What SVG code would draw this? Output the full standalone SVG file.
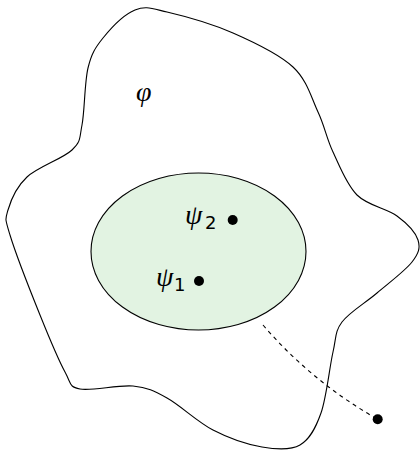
<svg xmlns="http://www.w3.org/2000/svg" width="420" height="451" viewBox="0 0 420 451">
<style>
.ln{fill:none;stroke:#000;stroke-width:1.1}
.dot{fill:#000}
.m{font-family:"Liberation Serif","DejaVu Serif",serif;font-style:italic;font-size:28px;fill:#000}
.s{font-family:"DejaVu Sans","Liberation Sans",sans-serif;font-size:18px;fill:#000}
</style>
<rect width="420" height="451" fill="#fff"/>
<g id="phi">
<path class="ln" d="M8,210 C10.8,200.3 16.3,187 27,177 C37.7,167 62.8,158.7 72,150 C81.2,141.3 79.3,138.7 82,125 C84.7,111.3 84.5,82.5 88,68 C91.5,53.5 95.2,47.7 103,38 C110.8,28.3 124.3,14.3 135,10 C145.7,5.7 150.7,8.2 167,12 C183.3,15.8 212,23.8 233,33 C254,42.2 278.8,53.8 293,67 C307.2,80.2 311.3,97.8 318,112 C324.7,126.2 326.5,138.2 333,152 C339.5,165.8 346.3,184.3 357,195 C367.7,205.7 386.8,208.5 397,216 C407.2,223.5 415.5,232.3 418,240 C420.5,247.7 418.8,253.2 412,262 C405.2,270.8 388.7,283 377,293 C365.3,303 349.3,312.2 342,322 C334.7,331.8 336.5,336.8 333,352 C329.5,367.2 326.5,397.5 321,413 C315.5,428.5 309.8,439.3 300,445 C290.2,450.7 276.5,449.5 262,447 C247.5,444.5 228.8,438.2 213,430 C197.2,421.8 180.3,405.3 167,398 C153.7,390.7 147.5,387.5 133,386 C118.5,384.5 91.3,391.3 80,389 C68.7,386.7 71.7,384.3 65,372 C58.3,359.7 49.2,337.8 40,315 C30.8,292.2 15.3,252.5 10,235 C4.7,217.5 5.2,219.7 8,210 Z"/>
<text class="m" x="136" y="101">φ</text>
</g>
<g id="region">
<ellipse cx="198.5" cy="251.5" rx="107.5" ry="78.5" fill="#e2f3e2" stroke="#000" stroke-width="1.1"/>
</g>
<g id="psi2">
<circle class="dot" cx="232.7" cy="220" r="5"/>
<text class="m" x="185" y="224">ψ</text>
<text class="s" x="205" y="228.5">2</text>
</g>
<g id="psi1">
<circle class="dot" cx="199" cy="281" r="5"/>
<text class="m" x="156" y="286">ψ</text>
<text class="s" x="174" y="291">1</text>
</g>
<g id="outside">
<circle class="dot" cx="377.7" cy="419.3" r="5"/>
</g>
<g id="connectors">
<path class="ln" stroke-dasharray="4 4" d="M263,325 Q311.9,381.9 377.7,419.3"/>
</g>
</svg>
